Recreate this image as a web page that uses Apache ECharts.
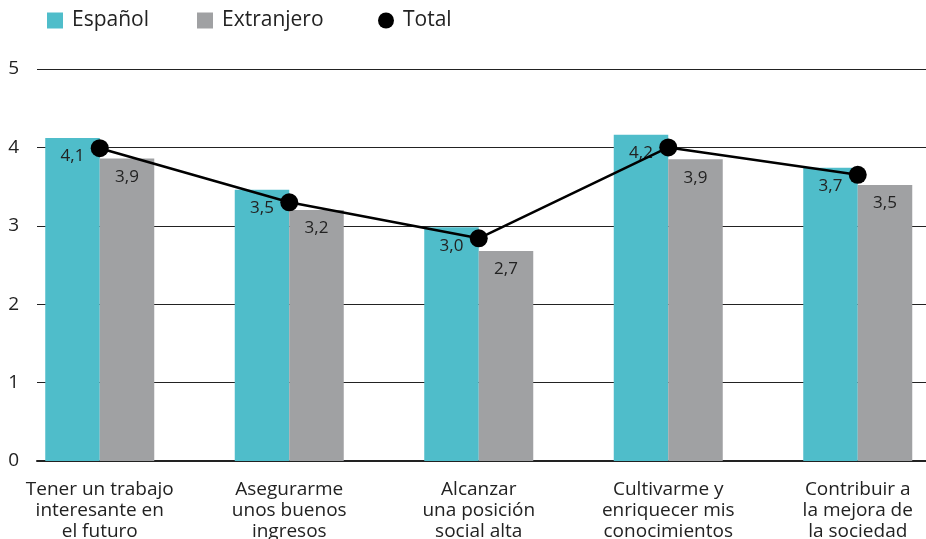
<!DOCTYPE html>
<html>
<head>
<meta charset="utf-8">
<script src="https://cdn.jsdelivr.net/npm/echarts@6/dist/echarts.min.js"></script>
<style>
  html, body { margin: 0; padding: 0; background: #fff; }
  #chart { width: 926px; height: 539px; }
</style>
</head>
<body>
<div id="chart"></div>
<script>
// categorias (eje x)
var categorias = [
    'Tener un trabajo\ninteresante en\nel futuro',
    'Asegurarme\nunos buenos\ningresos',
    'Alcanzar\nuna posición\nsocial alta',
    'Cultivarme y\nenriquecer mis\nconocimientos',
    'Contribuir a\nla mejora de\nla sociedad'
];
var espanol = [4.12, 3.46, 2.98, 4.16, 3.74];
var extranjero = [3.86, 3.2, 2.68, 3.85, 3.52];
var total = [3.99, 3.3, 2.84, 4.0, 3.65];
var ticksY = [0, 1, 2, 3, 4, 5];

var fontName = '"Open Sans", "Noto Sans", sans-serif';
var txtColor = '#222222';

function fmt(p) {
    return p.value.toFixed(1).replace('.', ',');
}

// una leyenda por elemento para colocarlas igual que el original
function leyenda(nombre, icono, izq) {
    return {
        left: izq,
        top: 5,
        itemWidth: 16,
        itemHeight: 16,
        textStyle: { fontSize: 21, color: txtColor, fontFamily: fontName, padding: [0, 0, 0, 4] },
        data: [{ name: nombre, icon: icono }]
    };
}

var myCharts = echarts.init(document.getElementById('chart'), null, { renderer: 'canvas' });
var option = {
    animation: false,
    textStyle: { fontFamily: fontName },
    legend: [
        leyenda('Español', 'rect', 42),
        leyenda('Extranjero', 'rect', 192),
        leyenda('Total', 'circle', 373)
    ],
    grid: [
        // rejilla para las lineas y el eje y
        { left: 37, right: 0, top: 69, bottom: 78, outerBoundsMode: 'none' },
        // rejilla para las barras (se sale un poco por la derecha)
        { left: 5, right: -26.5, top: 69, bottom: 78, outerBoundsMode: 'none' }
    ],
    xAxis: [{
        gridIndex: 0,
        type: 'category',
        data: categorias,
        axisLine: { show: true, lineStyle: { color: '#222', width: 2 } },
        axisTick: { show: false },
        axisLabel: { show: false }
    }, {
        gridIndex: 1,
        type: 'category',
        data: categorias,
        axisLine: { show: false },
        axisTick: { show: false },
        axisLabel: {
            color: txtColor,
            fontSize: 19,
            lineHeight: 21,
            margin: 18,
            interval: 0,
            align: 'center'
        }
    }],
    yAxis: [{
        gridIndex: 0,
        type: 'value',
        min: ticksY[0],
        max: ticksY[ticksY.length - 1],
        interval: 1,
        axisLine: { show: false },
        axisTick: { show: false },
        axisLabel: { color: txtColor, fontSize: 19, margin: 18 },
        splitLine: { show: true, lineStyle: { color: '#222', width: 1.2 } }
    }, {
        gridIndex: 1,
        type: 'value',
        min: ticksY[0],
        max: ticksY[ticksY.length - 1],
        show: false
    }],
    series: [{
        name: 'Español',
        type: 'bar',
        xAxisIndex: 1,
        yAxisIndex: 1,
        barWidth: 54.5,
        barGap: '0%',
        itemStyle: { color: '#4fbdca' },
        label: {
            show: true,
            position: 'insideTop',
            distance: 10,
            fontSize: 17,
            color: txtColor,
            formatter: fmt
        },
        data: espanol
    }, {
        name: 'Extranjero',
        type: 'bar',
        xAxisIndex: 1,
        yAxisIndex: 1,
        barWidth: 54.5,
        barGap: '0%',
        itemStyle: { color: '#a0a1a3' },
        label: {
            show: true,
            position: 'insideTop',
            distance: 10,
            fontSize: 17,
            color: txtColor,
            formatter: fmt
        },
        data: extranjero
    }, {
        name: 'Total',
        type: 'line',
        xAxisIndex: 1,
        yAxisIndex: 1,
        symbol: 'circle',
        symbolSize: 18,
        z: 5,
        itemStyle: { color: '#000' },
        lineStyle: { color: '#000', width: 2.5 },
        data: total
    }]
};
myCharts.setOption(option);
</script>
</body>
</html>
